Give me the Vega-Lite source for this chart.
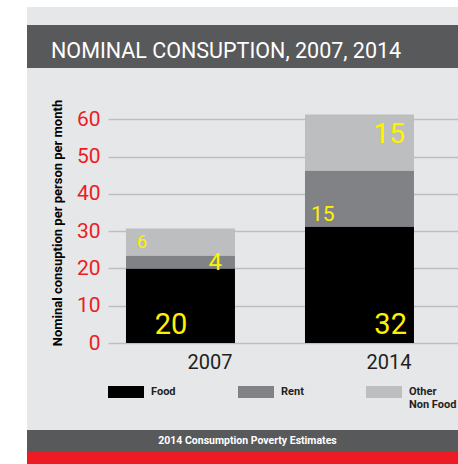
{
  "$schema": "https://vega.github.io/schema/vega-lite/v6.json",
  "background": "#e6e7e8",
  "padding": 0,
  "spacing": 0,
  "config": {
    "font": "Roboto",
    "view": {"stroke": null},
    "concat": {"spacing": 0}
  },
  "resolve": {"legend": {"color": "independent"}},
  "hconcat": [
    {"width": 27, "height": 464, "data": {"values": []}, "mark": "rect", "view": {"fill": "#ffffff"}},
    {
      "spacing": 0,
      "resolve": {"legend": {"color": "independent"}},
      "vconcat": [
        {"width": 431, "height": 7, "data": {"values": []}, "mark": "rect", "view": {"fill": "#ffffff"}},
        {"width": 431, "height": 18, "data": {"values": []}, "mark": "rect"},
        {
          "width": 431, "height": 43, "data": {"values": []}, "mark": "rect",
          "view": {"fill": "#58595b"},
          "title": {"text": "NOMINAL CONSUPTION, 2007, 2014", "anchor": "start", "frame": "group", "orient": "top", "offset": -54, "baseline": "alphabetic", "dx": 24, "color": "#ffffff", "fontSize": 21.5, "fontWeight": "normal", "font": "Roboto"}
        },
        {"width": 431, "height": 31, "data": {"values": []}, "mark": "rect"},
        {
          "spacing": 0,
          "resolve": {"legend": {"color": "independent"}},
          "hconcat": [
            {"width": 23, "height": 10, "data": {"values": []}, "mark": "rect"},
            {
              "width": 350,
              "height": 231,
              "data": {"values": [
                {"year": "2007", "category": "Food", "value": 20, "order": 1, "label": "20"},
                {"year": "2007", "category": "Rent", "value": 3.5, "order": 2, "label": "4"},
                {"year": "2007", "category": "Other Non Food", "value": 7.2, "order": 3, "label": "6"},
                {"year": "2014", "category": "Food", "value": 31.3, "order": 1, "label": "32"},
                {"year": "2014", "category": "Rent", "value": 15, "order": 2, "label": "15"},
                {"year": "2014", "category": "Other Non Food", "value": 15, "order": 3, "label": "15"}
              ]},
              "transform": [
                {"stack": "value", "groupby": ["year"], "sort": [{"field": "order", "order": "ascending"}], "as": ["v0", "v1"]}
              ],
              "encoding": {
                "x": {
                  "field": "year", "type": "nominal",
                  "scale": {"paddingInner": 0.3911, "paddingOuter": 0.1732, "align": 0.29},
                  "axis": {"title": null, "labelAngle": 0, "labelAlign": "right", "labelBaseline": "top", "labelOffset": 52, "labelPadding": 9, "labelFontSize": 20, "labelColor": "#231f20", "domain": false, "ticks": false}
                },
                "y": {
                  "field": "v0", "type": "quantitative",
                  "scale": {"domain": [0, 62], "nice": false},
                  "axis": {
                    "title": "Nominal consuption per person per month",
                    "values": [0, 10, 20, 30, 40, 50, 60],
                    "domain": false, "ticks": false,
                    "labelColor": "#ed1c24", "labelFontSize": 21, "labelPadding": 8,
                    "gridColor": "#bcbec0", "gridWidth": 1.5,
                    "titleFontSize": 13, "titleFontWeight": "bold", "titleColor": "#000000",
                    "titleX": -51, "titleY": 110.5, "titleBaseline": "middle", "titleAngle": -90, "titleAlign": "center"
                  }
                }
              },
              "layer": [
                {
                  "mark": {"type": "bar"},
                  "encoding": {
                    "y2": {"field": "v1"},
                    "color": {
                      "field": "category", "type": "nominal",
                      "scale": {"domain": ["Food", "Rent", "Other Non Food"], "range": ["#000000", "#808285", "#bcbec0"]},
                      "legend": {
                        "orient": "bottom", "direction": "horizontal", "title": null,
                        "symbolType": "M-1,-0.333H1V0.333H-1Z", "symbolSize": 1296, "symbolStrokeWidth": 0, "symbolOpacity": 1,
                        "labelFontSize": 11, "labelFontWeight": "bold", "labelColor": "#231f20", "labelOffset": 7,
                        "columnPadding": 62, "offset": 2, "labelLimit": 200,
                        "labelExpr": "datum.label == 'Other Non Food' ? ['Other', 'Non Food'] : [datum.label, ' ']"
                      }
                    }
                  }
                },
                {
                  "transform": [{"filter": "datum.year == '2007' && datum.category == 'Food'"}],
                  "mark": {"type": "text", "align": "center", "baseline": "alphabetic", "dx": -9.5, "dy": -9.5, "fontSize": 29, "color": "#fff200"},
                  "encoding": {"text": {"field": "label"}}
                },
                {
                  "transform": [{"filter": "datum.year == '2014' && datum.category == 'Food'"}],
                  "mark": {"type": "text", "align": "right", "baseline": "alphabetic", "dx": 47.5, "dy": -9.5, "fontSize": 29, "color": "#fff200"},
                  "encoding": {"text": {"field": "label"}}
                },
                {
                  "transform": [{"filter": "datum.year == '2007' && datum.category == 'Rent'"}],
                  "mark": {"type": "text", "align": "right", "baseline": "alphabetic", "dx": 41.5, "dy": 2, "fontSize": 24, "color": "#fff200"},
                  "encoding": {"text": {"field": "label"}}
                },
                {
                  "transform": [{"filter": "datum.year == '2007' && datum.category == 'Other Non Food'"}],
                  "mark": {"type": "text", "align": "left", "baseline": "alphabetic", "dx": -43.5, "dy": -7, "fontSize": 18, "color": "#fff200"},
                  "encoding": {"text": {"field": "label"}}
                },
                {
                  "transform": [{"filter": "datum.year == '2014' && datum.category == 'Rent'"}],
                  "mark": {"type": "text", "align": "left", "baseline": "alphabetic", "dx": -48.5, "dy": -5, "fontSize": 21, "color": "#fff200"},
                  "encoding": {"text": {"field": "label"}}
                },
                {
                  "transform": [{"filter": "datum.year == '2014' && datum.category == 'Other Non Food'"}],
                  "mark": {"type": "text", "align": "right", "baseline": "alphabetic", "dx": 45.5, "dy": -27, "fontSize": 28, "color": "#fff200"},
                  "encoding": {"text": {"field": "label"}}
                }
              ]
            }
          ]
        },
        {"width": 431, "height": 20, "data": {"values": []}, "mark": "rect"},
        {
          "width": 431, "height": 22, "data": {"values": []}, "mark": "rect",
          "view": {"fill": "#58595b"},
          "title": {"text": "2014 Consumption Poverty Estimates", "anchor": "middle", "frame": "group", "orient": "top", "offset": -24, "baseline": "alphabetic", "dx": 5, "color": "#ffffff", "fontSize": 10.5, "fontWeight": "bold", "font": "Roboto"}
        },
        {"width": 431, "height": 12, "data": {"values": []}, "mark": "rect", "view": {"fill": "#ed1c24"}}
      ]
    }
  ]
}
